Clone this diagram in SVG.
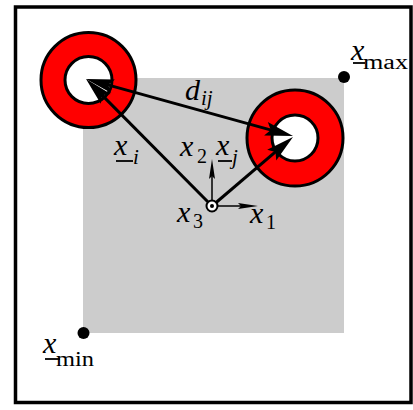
<svg xmlns="http://www.w3.org/2000/svg" width="413" height="410" viewBox="0 0 413 410">
<style>
.ring{fill:#ff0000;stroke:#000;stroke-width:3}
.hole{fill:#fff;stroke:#000;stroke-width:3}
.vec{stroke:#000;stroke-width:3;fill:none}
.axis{stroke:#000;stroke-width:1.5;fill:none}
.m{font-family:"Liberation Serif","Times New Roman",serif;font-style:italic;font-size:30px;fill:#000}
.s{font-family:"Liberation Serif","Times New Roman",serif;font-style:italic;font-size:21px;fill:#000}
.r{font-family:"Liberation Serif","Times New Roman",serif;font-size:20px;fill:#000}
.ul{stroke:#000;stroke-width:1.8}
</style>
<defs>
<marker id="ah" markerUnits="userSpaceOnUse" orient="auto-start-reverse" markerWidth="60" markerHeight="30" refX="0" refY="0" viewBox="-30 -15 60 30" overflow="visible">
<path d="M15,0 L-13,-7 L-8,0 L-13,7 Z" fill="#000"/>
</marker>
<marker id="sah" markerUnits="userSpaceOnUse" orient="auto" markerWidth="30" markerHeight="20" refX="0" refY="0" viewBox="-15 -10 30 20" overflow="visible">
<path d="M10,0 L-10,-3 L-7,0 L-10,3 Z" fill="#000"/>
</marker>
</defs>
<rect x="0" y="0" width="413" height="410" fill="#fff"/>
<rect id="frame" x="15.5" y="7" width="395.5" height="395.5" fill="none" stroke="#000" stroke-width="3.5"/>
<rect id="domain" x="83" y="78" width="261" height="255" fill="#cccccc"/>
<g id="particle-i">
<circle class="ring" cx="88.5" cy="80" r="47.5"/>
<circle class="hole" cx="88.5" cy="80" r="23.5"/>
</g>
<g id="particle-j">
<circle class="ring" cx="295" cy="138" r="48"/>
<circle class="hole" cx="295" cy="138" r="23"/>
</g>
<g id="connectors">
<line id="dij" class="vec" x1="100.5" y1="82.9" x2="278.5" y2="132.1" marker-start="url(#ah)" marker-end="url(#ah)"/>
<line id="xi" class="vec" x1="212" y1="206" x2="96.6" y2="89.6" marker-end="url(#ah)"/>
<line id="xj" class="vec" x1="212" y1="206" x2="281.6" y2="146.7" marker-end="url(#ah)"/>
<line id="ax1" class="axis" x1="212" y1="206" x2="248" y2="206" marker-end="url(#sah)"/>
<line id="ax2" class="axis" x1="212" y1="206" x2="212" y2="169" marker-end="url(#sah)"/>
</g>
<g id="origin">
<circle cx="212" cy="206" r="5.5" fill="#fff" stroke="#000" stroke-width="2"/>
<circle cx="212" cy="206" r="2" fill="#000"/>
</g>
<g id="xmax">
<circle cx="344" cy="77" r="6" fill="#000"/>
<text class="m" x="351" y="60">x</text>
<line class="ul" x1="353" y1="63" x2="365" y2="63"/>
<text class="r" x="363" y="69" textLength="45" lengthAdjust="spacingAndGlyphs">max</text>
</g>
<g id="xmin">
<circle cx="83.5" cy="333" r="6" fill="#000"/>
<text class="m" x="43" y="353">x</text>
<line class="ul" x1="45" y1="359" x2="60" y2="359"/>
<text class="r" x="56" y="366" textLength="38" lengthAdjust="spacingAndGlyphs">min</text>
</g>
<g id="labels">
<text class="m" x="185" y="100">d</text><text class="s" x="201" y="105">ij</text>
<text class="m" x="114" y="155">x</text><line class="ul" x1="116" y1="161" x2="133" y2="161"/><text class="s" x="133" y="164">i</text>
<text class="m" x="180" y="156">x</text><text class="r" x="197" y="163">2</text>
<text class="m" x="216" y="155">x</text><line class="ul" x1="218" y1="161" x2="232" y2="161"/><text class="s" x="232" y="164">j</text>
<text class="m" x="177" y="222">x</text><text class="r" x="193" y="228">3</text>
<text class="m" x="250" y="223">x</text><text class="r" x="266" y="229">1</text>
</g>
</svg>
